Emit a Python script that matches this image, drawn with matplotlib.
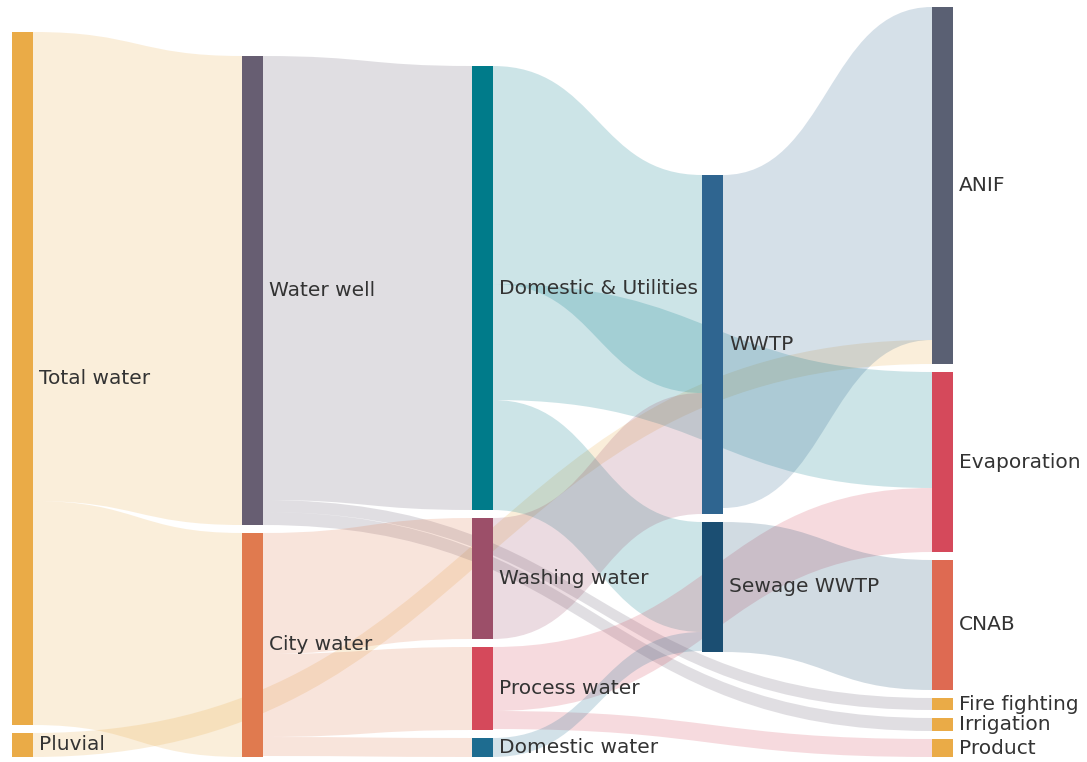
import matplotlib
matplotlib.use("Agg")
import matplotlib.pyplot as plt
from matplotlib.path import Path
from matplotlib.patches import PathPatch, Rectangle

# ---------------- data ----------------
nodes = ["Total water", "Pluvial", "Water well", "City water",
         "Domestic & Utilities", "Washing water", "Process water", "Domestic water",
         "WWTP", "Sewage WWTP",
         "ANIF", "Evaporation", "CNAB", "Fire fighting", "Irrigation", "Product"]
node_columns = [0, 0, 1, 1, 2, 2, 2, 2, 3, 3, 4, 4, 4, 4, 4, 4]
node_colors = ["#EAAB47", "#EAAB47", "#675E72", "#E07A4F",
               "#007B8A", "#9C4F69", "#D5495B", "#1E6C90",
               "#2F6590", "#1B4E72",
               "#5A6073", "#D5495B", "#DE6A52", "#EAAB47", "#EAAB47", "#EAAB47"]

link_sources = ["Total water", "Total water", "Pluvial",
                "Water well", "Water well", "Water well",
                "City water", "City water", "City water",
                "Domestic & Utilities", "Domestic & Utilities", "Domestic & Utilities",
                "Washing water", "Process water", "Process water", "Domestic water",
                "WWTP", "Sewage WWTP"]
link_targets = ["Water well", "City water", "ANIF",
                "Domestic & Utilities", "Fire fighting", "Irrigation",
                "Washing water", "Process water", "Domestic water",
                "WWTP", "Evaporation", "Sewage WWTP",
                "WWTP", "Evaporation", "Product", "Sewage WWTP",
                "ANIF", "CNAB"]
link_values = [469, 224, 24,
               444, 12, 13,
               121, 83, 19,
               218, 116, 110,
               121, 64, 18, 19,
               333, 130]

# ---------------- layout ----------------
W, H = 1087, 762
top, bottom = 7, 757
node_w = 21
x_left, x_right = 12, 932
gap = 8
col_lift = {3: 105}   # vertical relaxation of the 4th column (px)

n = len(nodes)
idx = {name: i for i, name in enumerate(nodes)}
in_sum = [0.0] * n
out_sum = [0.0] * n
for s, t, v in zip(link_sources, link_targets, link_values):
    out_sum[idx[s]] += v
    in_sum[idx[t]] += v
node_val = [max(a, b) for a, b in zip(in_sum, out_sum)]

ncol = max(node_columns) + 1
cols = [[i for i in range(n) if node_columns[i] == c] for c in range(ncol)]
scale = min((bottom - top - (len(c) - 1) * gap) / sum(node_val[i] for i in c) for c in cols)
col_dx = (x_right - x_left) / (ncol - 1)

ny0 = [0.0] * n
ny1 = [0.0] * n
nx = [0.0] * n
for c, members in enumerate(cols):
    y = bottom - col_lift.get(c, 0)
    for i in reversed(members):
        h = node_val[i] * scale
        ny1[i] = y
        ny0[i] = y - h
        y = y - h - gap
        nx[i] = x_left + c * col_dx

# link attachment positions
L = len(link_values)
sy = [0.0] * L
ty = [0.0] * L
for i in range(n):
    outs = sorted([k for k in range(L) if idx[link_sources[k]] == i], key=lambda k: ny0[idx[link_targets[k]]])
    y = ny0[i]
    for k in outs:
        sy[k] = y
        y += link_values[k] * scale
    ins = sorted([k for k in range(L) if idx[link_targets[k]] == i], key=lambda k: ny0[idx[link_sources[k]]])
    y = ny0[i]
    for k in ins:
        ty[k] = y
        y += link_values[k] * scale

# ---------------- drawing ----------------
plt.rcParams['font.family'] = ['DejaVu Sans']
fig = plt.figure(figsize=(W / 100, H / 100), dpi=100)
ax = fig.add_axes([0, 0, 1, 1])
ax.set_xlim(0, W)
ax.set_ylim(H, 0)
ax.axis('off')

for k in range(L):
    s = idx[link_sources[k]]
    t = idx[link_targets[k]]
    w = link_values[k] * scale
    x0 = nx[s] + node_w
    x1 = nx[t]
    xm = (x0 + x1) / 2
    verts = [(x0, sy[k]), (xm, sy[k]), (xm, ty[k]), (x1, ty[k]),
             (x1, ty[k] + w), (xm, ty[k] + w), (xm, sy[k] + w), (x0, sy[k] + w),
             (x0, sy[k])]
    codes = [Path.MOVETO, Path.CURVE4, Path.CURVE4, Path.CURVE4,
             Path.LINETO, Path.CURVE4, Path.CURVE4, Path.CURVE4, Path.CLOSEPOLY]
    ax.add_patch(PathPatch(Path(verts, codes), facecolor=node_colors[s], alpha=0.2,
                           edgecolor='none', zorder=1))

for i in range(n):
    ax.add_patch(Rectangle((nx[i], ny0[i]), node_w, ny1[i] - ny0[i],
                           facecolor=node_colors[i], edgecolor='none', zorder=3))
    ax.text(nx[i] + node_w + 6, (ny0[i] + ny1[i]) / 2, nodes[i], ha='left', va='center',
            fontsize=14.5, color='#333333', zorder=4)

fig.savefig("out.png", dpi=100)
